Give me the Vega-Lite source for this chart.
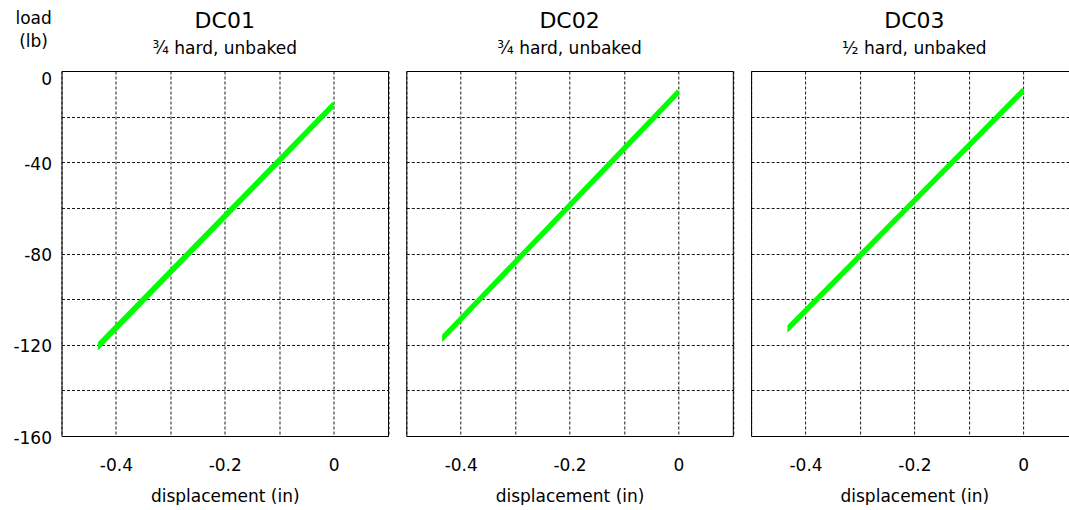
{
  "$schema": "https://vega.github.io/schema/vega-lite/v6.json",
  "background": "white",
  "padding": {"left": 11.5, "top": 9, "right": 0, "bottom": 0},
  "autosize": {"type": "pad"},
  "spacing": 16.8,
  "config": {
    "font": "DejaVu Sans",
    "view": {"stroke": "black", "strokeWidth": 1},
    "axis": {
      "ticks": false,
      "domain": false,
      "labelFont": "DejaVu Sans",
      "labelFontSize": 17,
      "labelColor": "black",
      "titleFont": "DejaVu Sans",
      "titleFontSize": 17,
      "titleFontWeight": "normal",
      "titleColor": "black",
      "gridColor": "black",
      "gridDash": [3, 2],
      "gridWidth": 1,
      "gridOpacity": 0.9
    },
    "axisX": {"labelPadding": 21.5, "titlePadding": 15},
    "axisY": {"labelPadding": 10},
    "title": {
      "font": "DejaVu Sans",
      "fontSize": 22,
      "fontWeight": "normal",
      "color": "black",
      "subtitleFont": "DejaVu Sans",
      "subtitleFontSize": 17,
      "subtitleColor": "black",
      "subtitlePadding": 7.3,
      "anchor": "middle",
      "frame": "group",
      "offset": 13.4
    }
  },
  "datasets": {
    "loops": [
      {"specimen": "DC01", "step": 1, "disp": 0, "load": -14.1},
      {"specimen": "DC01", "step": 2, "disp": -0.43, "load": -119.2},
      {"specimen": "DC01", "step": 3, "disp": -0.43, "load": -120.6},
      {"specimen": "DC01", "step": 4, "disp": 0, "load": -15.4},
      {"specimen": "DC02", "step": 1, "disp": 0, "load": -8.6},
      {"specimen": "DC02", "step": 2, "disp": -0.431, "load": -115.9},
      {"specimen": "DC02", "step": 3, "disp": -0.431, "load": -117.0},
      {"specimen": "DC02", "step": 4, "disp": 0, "load": -9.8},
      {"specimen": "DC03", "step": 1, "disp": 0, "load": -8.0},
      {"specimen": "DC03", "step": 2, "disp": -0.43, "load": -111.8},
      {"specimen": "DC03", "step": 3, "disp": -0.43, "load": -112.9},
      {"specimen": "DC03", "step": 4, "disp": 0, "load": -9.1}
    ]
  },
  "hconcat": [
    {
      "width": 326.5,
      "height": 365,
      "title": {"text": "DC01", "subtitle": "¾ hard, unbaked", "offset": -47.9},
      "data": {"name": "loops"},
      "transform": [{"filter": "datum.specimen == 'DC01'"}],
      "mark": {"type": "line", "color": "#00ff00", "strokeWidth": 3.5, "strokeCap": "butt"},
      "encoding": {
        "x": {
          "field": "disp", "type": "quantitative",
          "scale": {"domain": [-0.5, 0.1], "nice": false, "zero": false},
          "axis": {
            "title": "displacement (in)",
            "values": [-0.5, -0.4, -0.3, -0.2, -0.1, 0, 0.1],
            "labelExpr": "abs(round(datum.value * 10)) % 2 == 0 ? '' + datum.value : ''"
          }
        },
        "y": {
          "field": "load", "type": "quantitative",
          "scale": {"domain": [-160, 0], "nice": false},
          "axis": {
            "title": ["load", "(lb)"],
            "titleAngle": 0,
            "titleAlign": "center",
            "titleBaseline": "alphabetic",
            "titleLineHeight": 23,
            "titleX": -28.4,
            "titleY": -47.3,
            "values": [-160, -140, -120, -100, -80, -60, -40, -20, 0],
            "labelExpr": "datum.value % 40 == 0 ? '' + datum.value : ''",
            "labelBaseline": {"condition": {"test": "datum.value == 0", "value": "top"}, "value": "middle"},
            "labelOffset": {"condition": {"test": "datum.value == 0", "value": 0}, "value": 2}
          }
        },
        "order": {"field": "step", "type": "quantitative"}
      }
    },
    {
      "width": 326.5,
      "height": 365,
      "title": {"text": "DC02", "subtitle": "¾ hard, unbaked"},
      "data": {"name": "loops"},
      "transform": [{"filter": "datum.specimen == 'DC02'"}],
      "mark": {"type": "line", "color": "#00ff00", "strokeWidth": 3.5, "strokeCap": "butt"},
      "encoding": {
        "x": {
          "field": "disp", "type": "quantitative",
          "scale": {"domain": [-0.5, 0.1], "nice": false, "zero": false},
          "axis": {
            "title": "displacement (in)",
            "values": [-0.5, -0.4, -0.3, -0.2, -0.1, 0, 0.1],
            "labelExpr": "abs(round(datum.value * 10)) % 2 == 0 ? '' + datum.value : ''"
          }
        },
        "y": {
          "field": "load", "type": "quantitative",
          "scale": {"domain": [-160, 0], "nice": false},
          "axis": {
            "title": null,
            "labels": false,
            "values": [-160, -140, -120, -100, -80, -60, -40, -20, 0]
          }
        },
        "order": {"field": "step", "type": "quantitative"}
      }
    },
    {
      "width": 326.5,
      "height": 365,
      "title": {"text": "DC03", "subtitle": "½ hard, unbaked"},
      "data": {"name": "loops"},
      "transform": [{"filter": "datum.specimen == 'DC03'"}],
      "mark": {"type": "line", "color": "#00ff00", "strokeWidth": 3.5, "strokeCap": "butt"},
      "encoding": {
        "x": {
          "field": "disp", "type": "quantitative",
          "scale": {"domain": [-0.5, 0.1], "nice": false, "zero": false},
          "axis": {
            "title": "displacement (in)",
            "values": [-0.5, -0.4, -0.3, -0.2, -0.1, 0, 0.1],
            "labelExpr": "abs(round(datum.value * 10)) % 2 == 0 ? '' + datum.value : ''"
          }
        },
        "y": {
          "field": "load", "type": "quantitative",
          "scale": {"domain": [-160, 0], "nice": false},
          "axis": {
            "title": null,
            "labels": false,
            "values": [-160, -140, -120, -100, -80, -60, -40, -20, 0]
          }
        },
        "order": {"field": "step", "type": "quantitative"}
      }
    }
  ]
}
